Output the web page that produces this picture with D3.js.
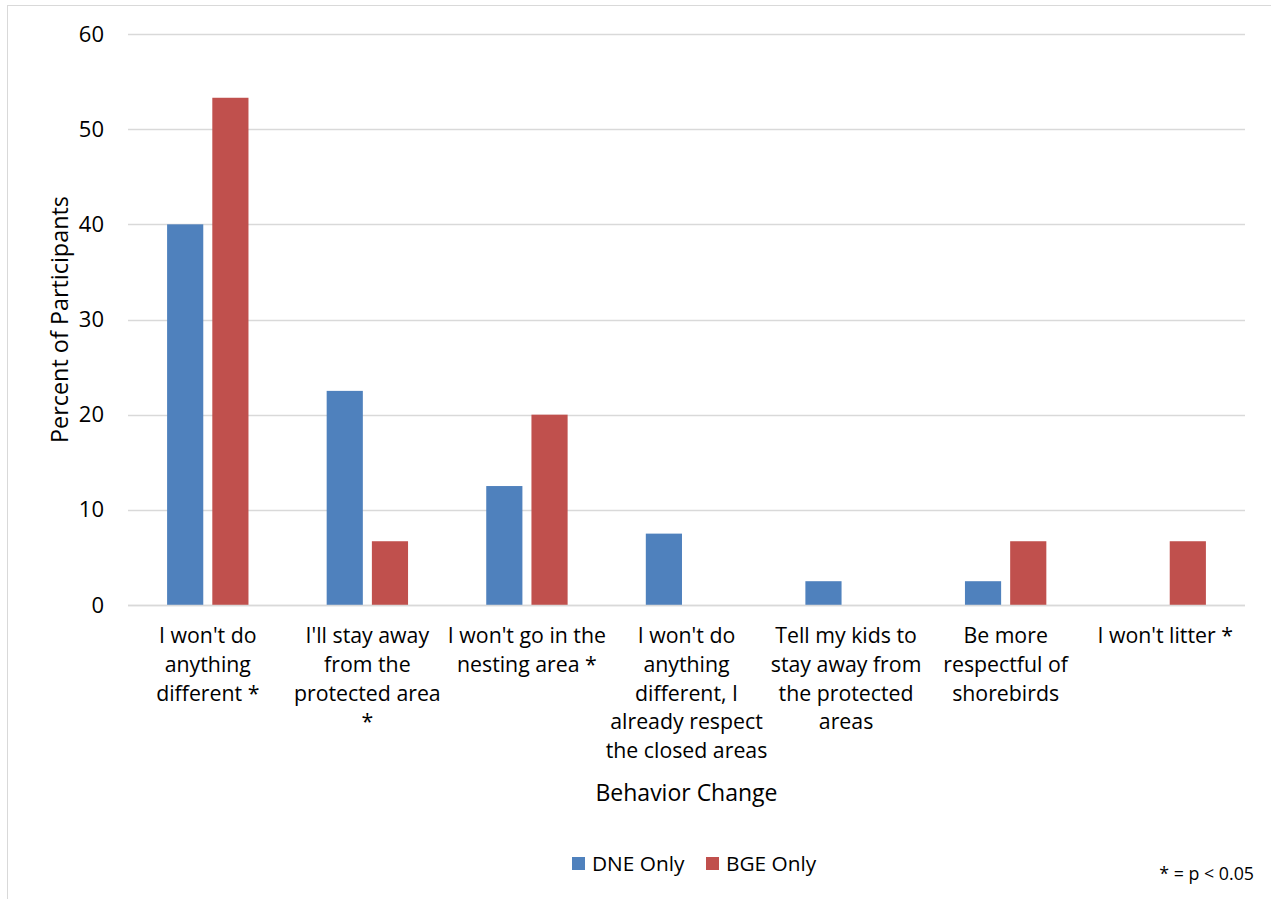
<!DOCTYPE html>
<html>
<head>
<meta charset="utf-8">
<script src="https://cdn.jsdelivr.net/npm/d3@7"></script>
<style>
  html, body { margin: 0; padding: 0; background: #fff; }
  svg { display: block; font-family: "Open Sans", Lato, "Liberation Sans", sans-serif; }
</style>
</head>
<body>
<svg id="chart" width="1271" height="899"></svg>
<script>
// Behavior change responses by group
const categories = [
  ["I won't do", "anything", "different *"],
  ["I'll stay away", "from the", "protected area", "*"],
  ["I won't go in the", "nesting area *"],
  ["I won't do", "anything", "different, I", "already respect", "the closed areas"],
  ["Tell my kids to", "stay away from", "the protected", "areas"],
  ["Be more", "respectful of", "shorebirds"],
  ["I won't litter *"]
];
const seriesNames = ["DNE Only", "BGE Only"];
const dneValues = [40, 22.5, 12.5, 7.5, 2.5, 2.5, 0];
const bgeValues = [53.3, 6.7, 20, 0, 0, 6.7, 6.7];
const colors = ["#4F81BD", "#C0504D"];
const yTicks = [0, 10, 20, 30, 40, 50, 60];

const svg = d3.select("#chart");
const W = 1271, H = 899;
const plot = { left: 128, right: 1245, top: 34, bottom: 605 };

// chart frame
svg.append("rect")
  .attr("x", 7.5).attr("y", 5.5)
  .attr("width", W + 10).attr("height", H + 10)
  .attr("fill", "none").attr("stroke", "#D9D9D9").attr("stroke-width", 1);

const idx = categories.map((d, i) => i);
const x0 = d3.scaleBand().domain(idx).range([plot.left, plot.right]).paddingInner(0).paddingOuter(0);
const groupPad = 0.245;
const x1 = d3.scaleBand().domain([0, 1])
  .range([x0.bandwidth() * groupPad, x0.bandwidth() * (1 - groupPad)])
  .paddingInner(0.2);
const y = d3.scaleLinear().domain([0, 60]).range([plot.bottom, plot.top]);

// gridlines
svg.append("g").selectAll("line").data(yTicks).join("line")
  .attr("x1", plot.left).attr("x2", plot.right)
  .attr("y1", d => Math.round(y(d)) + 0.5).attr("y2", d => Math.round(y(d)) + 0.5)
  .attr("stroke", "#D9D9D9").attr("stroke-width", 1.5);

// y axis labels
const yAxis = d3.axisLeft(y).tickValues(yTicks).tickSize(0).tickPadding(0);
const ya = svg.append("g").attr("transform", `translate(104,0)`).call(yAxis);
ya.select(".domain").remove();
ya.selectAll("text").attr("font-size", 22).attr("fill", "#000")
  .attr("font-family", "'Open Sans', Lato, sans-serif");

// bars
const series = [dneValues, bgeValues];
const groups = svg.append("g").selectAll("g").data(idx).join("g")
  .attr("transform", i => `translate(${x0(i)},0)`);
groups.selectAll("rect")
  .data(i => series.map((s, k) => ({ k, v: s[i] })).filter(d => d.v > 0))
  .join("rect")
  .attr("x", d => x1(d.k))
  .attr("width", x1.bandwidth())
  .attr("y", d => y(d.v))
  .attr("height", d => y(0) - y(d.v))
  .attr("fill", d => colors[d.k]);

// baseline
svg.append("line")
  .attr("x1", plot.left).attr("x2", plot.right)
  .attr("y1", Math.round(y(0)) + 0.5).attr("y2", Math.round(y(0)) + 0.5)
  .attr("stroke", "#D9D9D9").attr("stroke-width", 1.5);

// category labels
const catG = svg.append("g");
idx.forEach(i => {
  const cx = x0(i) + x0.bandwidth() / 2;
  const t = catG.append("text")
    .attr("x", cx)
    .attr("y", 643)
    .attr("text-anchor", "middle")
    .attr("font-size", 21.3)
    .attr("fill", "#000");
  categories[i].forEach((line, j) => {
    t.append("tspan").attr("x", cx).attr("dy", j === 0 ? 0 : 28.8).text(line);
  });
});

// axis titles
svg.append("text")
  .attr("transform", `translate(68,${(plot.top + plot.bottom) / 2}) rotate(-90)`)
  .attr("text-anchor", "middle").attr("font-size", 23.4).attr("fill", "#000")
  .text("Percent of Participants");
svg.append("text")
  .attr("x", (plot.left + plot.right) / 2).attr("y", 801)
  .attr("text-anchor", "middle").attr("font-size", 23).attr("fill", "#000")
  .text("Behavior Change");

// legend
const legend = svg.append("g");
const legendX = [572, 706];
seriesNames.forEach((name, k) => {
  legend.append("rect").attr("x", legendX[k]).attr("y", 857)
    .attr("width", 13).attr("height", 13).attr("fill", colors[k]);
  legend.append("text").attr("x", legendX[k] + 20).attr("y", 871)
    .attr("font-size", 20.8).attr("fill", "#000").text(name);
});

// significance note
svg.append("text")
  .attr("x", 1254).attr("y", 880)
  .attr("text-anchor", "end").attr("font-size", 17.8).attr("fill", "#000")
  .text("* = p < 0.05");
</script>
</body>
</html>
